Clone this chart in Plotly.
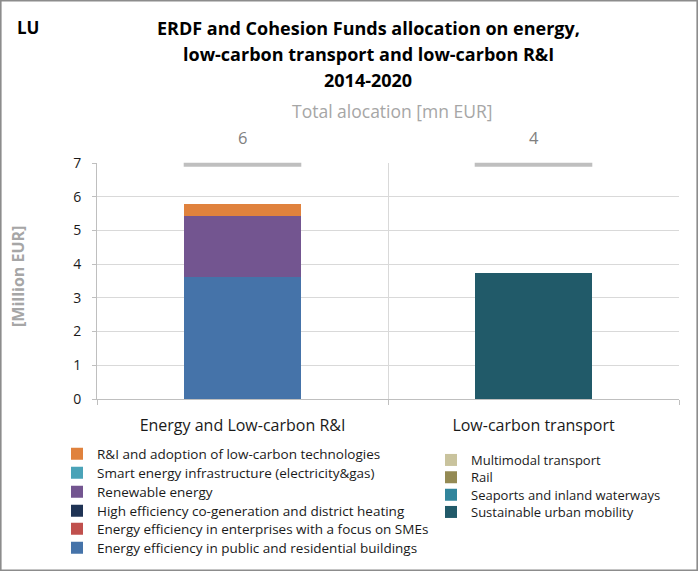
import plotly.graph_objects as go

categories = ["Energy and Low-carbon R&I", "Low-carbon transport"]

# Energy & low-carbon R&I series (stack order bottom -> top)
energy_names = [
    "Energy efficiency in public and residential buildings",
    "Energy efficiency in enterprises with a focus on SMEs",
    "High efficiency co-generation and district heating",
    "Renewable energy",
    "Smart energy infrastructure (electricity&gas)",
    "R&I and adoption of low-carbon technologies",
]
energy_values = [
    [3.62, 0.0],
    [0.0, 0.0],
    [0.0, 0.0],
    [1.82, 0.0],
    [0.0, 0.0],
    [0.35, 0.0],
]
energy_colors = ["#4573a9", "#c0504d", "#1f3354", "#735590", "#4aa3b8", "#e0823d"]

# Low-carbon transport series (stack order bottom -> top)
transport_names = [
    "Sustainable urban mobility",
    "Seaports and inland waterways",
    "Rail",
    "Multimodal transport",
]
transport_values = [
    [0.0, 3.75],
    [0.0, 0.0],
    [0.0, 0.0],
    [0.0, 0.0],
]
transport_colors = ["#215a69", "#31859c", "#948a54", "#c9c39d"]

# Total allocation marker level and labels
total_marker_level = [6.95, 6.95]
totals = [sum(v[i] for v in energy_values) + sum(v[i] for v in transport_values)
          for i in range(len(categories))]

FONT = "'Open Sans', Lato, sans-serif"
W, H = 698, 571
ml, mr, mt, mb = 97, 19, 163, 172
pw, ph = W - ml - mr, H - mt - mb

def px_to_paper_x(px):
    return (px - ml) / pw

def px_to_paper_y(py):
    return (H - mb - py) / ph

# legend row positions (pixel rows, bottom-of-stack first)
left_rows_y = [548, 529, 511, 492, 473, 454]
right_rows_y = [512, 494.7, 477.3, 460]
left_text_x, right_text_x = 97, 471

fig = go.Figure()
legend_layouts = {}
k = 0
for name, vals, col, ry in zip(energy_names, energy_values, energy_colors, left_rows_y):
    k += 1
    lname = "legend" if k == 1 else f"legend{k}"
    fig.add_trace(go.Bar(x=categories, y=vals, name=name, marker_color=col,
                         marker_line_width=0, legend=lname))
    legend_layouts[lname] = dict(xref="container", yref="container",
                                 x=(left_text_x - 40) / W, y=1 - ry / H,
                                 xanchor="left", yanchor="middle",
                                 font=dict(family=FONT, size=13.5, color="#1a1a1a"))
for name, vals, col, ry in zip(transport_names, transport_values, transport_colors, right_rows_y):
    k += 1
    lname = f"legend{k}"
    fig.add_trace(go.Bar(x=categories, y=vals, name=name, marker_color=col,
                         marker_line_width=0, legend=lname))
    legend_layouts[lname] = dict(xref="container", yref="container",
                                 x=(right_text_x - 40) / W, y=1 - ry / H,
                                 xanchor="left", yanchor="middle",
                                 font=dict(family=FONT, size=13, color="#1a1a1a"))

for lname, ld in legend_layouts.items():
    ld.update(bgcolor="rgba(0,0,0,0)", itemwidth=30, tracegroupgap=0)

fig.add_trace(go.Scatter(
    x=categories, y=total_marker_level, mode="markers", showlegend=False,
    marker=dict(symbol="line-ew", size=84, color="#bfbfbf",
                line=dict(color="#bfbfbf", width=4)),
    hoverinfo="skip", cliponaxis=False,
))

title_lines = ["ERDF and Cohesion Funds allocation on energy,",
               "low-carbon transport and low-carbon R&I",
               "2014-2020"]
title_rows_y = [28, 54, 80]

annotations = []
for line, ty in zip(title_lines, title_rows_y):
    annotations.append(dict(text=f"<b>{line}</b>", xref="paper", yref="paper",
                            x=px_to_paper_x(368), y=px_to_paper_y(ty),
                            xanchor="center", yanchor="middle", showarrow=False,
                            font=dict(family=FONT, size=18, color="#000000")))
annotations += [
    dict(text="<b>LU</b>", xref="paper", yref="paper",
         x=px_to_paper_x(15), y=px_to_paper_y(27), xanchor="left", yanchor="middle",
         showarrow=False, font=dict(family=FONT, size=17, color="#000000")),
    dict(text="Total alocation [mn EUR]", xref="paper", yref="paper",
         x=px_to_paper_x(392), y=px_to_paper_y(111), xanchor="center", yanchor="middle",
         showarrow=False, font=dict(family=FONT, size=17.5, color="#a6a6a6")),
    dict(text="<b>[Million EUR]</b>", xref="paper", yref="paper",
         x=px_to_paper_x(18), y=px_to_paper_y(277), xanchor="center", yanchor="middle",
         textangle=-90, showarrow=False,
         font=dict(family=FONT, size=16, color="#a6a6a6")),
]
for cat, t in zip(categories, totals):
    annotations.append(dict(text=f"{t:.0f}", x=cat, xref="x", yref="paper",
                            y=px_to_paper_y(137), xanchor="center", yanchor="middle",
                            showarrow=False,
                            font=dict(family=FONT, size=16.5, color="#808080")))

fig.update_layout(
    width=W, height=H,
    margin=dict(l=ml, r=mr, t=mt, b=mb, autoexpand=False),
    barmode="stack",
    bargap=0.6,
    paper_bgcolor="white", plot_bgcolor="white",
    font=dict(family=FONT, size=12, color="#222222"),
    annotations=annotations,
    xaxis=dict(
        type="category", tickson="boundaries", showgrid=True, gridcolor="#d9d9d9",
        gridwidth=1, showline=True, linecolor="#bfbfbf", ticks="outside",
        ticklen=5, tickcolor="#bfbfbf", tickfont=dict(family=FONT, size=16, color="#1a1a1a"),
        ticklabelstandoff=12, range=[-0.5, 1.5], automargin=False,
    ),
    yaxis=dict(
        range=[0, 7], dtick=1, showgrid=True, gridcolor="#d9d9d9", gridwidth=1,
        showline=True, linecolor="#bfbfbf", ticks="outside", ticklen=4,
        tickcolor="#bfbfbf", tickfont=dict(family=FONT, size=14, color="#1a1a1a"),
        ticklabelstandoff=8, zeroline=False, automargin=False,
    ),
    shapes=[dict(type="rect", xref="paper", yref="paper",
                 x0=px_to_paper_x(0.8), x1=px_to_paper_x(W - 0.8),
                 y0=px_to_paper_y(H - 0.8), y1=px_to_paper_y(0.8),
                 line=dict(color="#8c8c8c", width=1.6), layer="above")],
    **legend_layouts,
)

fig.write_html("out.html", config={"displayModeBar": False},
               post_script="document.body.style.margin='0';")
